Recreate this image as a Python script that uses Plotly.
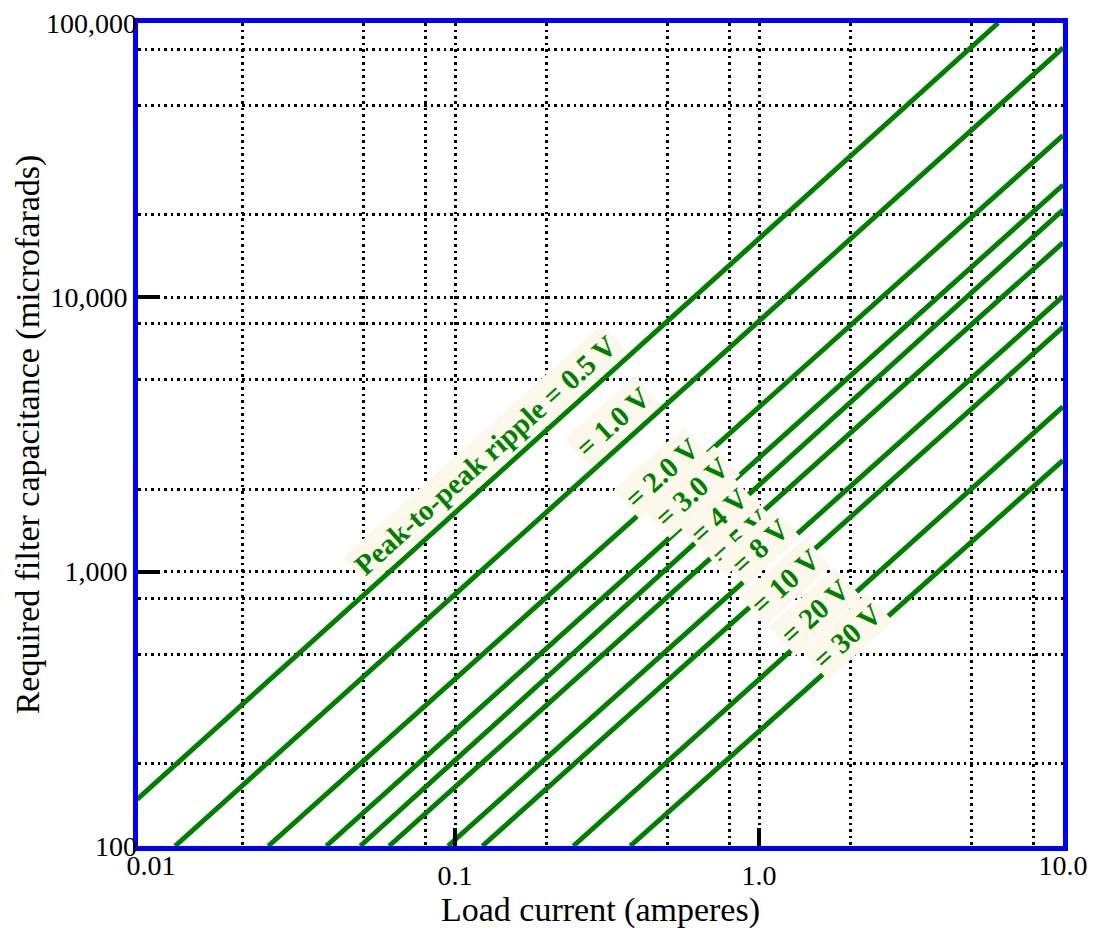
import plotly.graph_objects as go

# ---- data ----
ripple_volts = [0.5, 1.0, 2.0, 3.0, 4, 5, 8, 10, 20, 30]
label_texts = ["Peak-to-peak ripple = 0.5 V", "= 1.0 V", "= 2.0 V", "= 3.0 V", "= 4 V",
               "= 5 V", "= 8 V", "= 10 V", "= 20 V", "= 30 V"]
# start point of each line (amperes, microfarads)
start_current = [0.0090, 0.0120, 0.0243, 0.0377, 0.0488, 0.0607, 0.0948, 0.123, 0.245, 0.377]
start_cap = [148, 100, 100, 100, 100, 100, 100, 100, 100, 100]
# end point of each line
end_current = [6.12, 10, 10, 10, 10, 10, 10, 10, 10, 10]
end_cap = [100000, 81200, 38960, 25670, 20830, 15820, 10080, 7785, 3995, 2546]

# label centres (fraction of plot area)
label_px = [0.376, 0.5135, 0.5665, 0.599, 0.628, 0.651, 0.672, 0.6995, 0.732, 0.7675]
label_py = [0.475, 0.515, 0.453, 0.430, 0.401, 0.3755, 0.3635, 0.321, 0.284, 0.255]

# axis ticks
x_major = [0.1, 1]
x_major_text = ["0.1", "1.0"]
x_end = [0.01, 10]
x_end_text = ["0.01", "10.0"]
y_major = [1000, 10000]
y_major_text = ["1,000", "10,000"]
y_end = [100, 100000]
y_end_text = ["100", "100,000"]
x_grid_minor = [0.02, 0.05, 0.08, 0.2, 0.5, 0.8, 2, 5, 8]
y_grid_minor = [200, 500, 800, 2000, 5000, 8000, 20000, 50000, 80000]

X_RANGE = [-2.043, 1.0]
Y_RANGE = [2.0, 5.0]

GREEN = "#008000"
SERIF = "Liberation Serif, Times New Roman, serif"
DOT = "2.5px,4px"

fig = go.Figure()
for v, x0, y0, x1, y1 in zip(ripple_volts, start_current, start_cap, end_current, end_cap):
    fig.add_trace(go.Scatter(x=[x0, x1], y=[y0, y1], mode="lines",
                             line=dict(color=GREEN, width=5), name=f"{v} V",
                             showlegend=False, hoverinfo="skip"))
# empty trace so that the overlay axes (end labels) are drawn
fig.add_trace(go.Scatter(x=[], y=[], xaxis="x2", yaxis="y2", showlegend=False,
                         hoverinfo="skip"))

for txt, px, py in zip(label_texts, label_px, label_py):
    fig.add_annotation(x=px, y=py, xref="paper", yref="paper", text=f"<b>{txt}</b>",
                       xanchor="center", yanchor="middle",
                       showarrow=False, textangle=-42, bgcolor="#FDF8EC", borderpad=3,
                       font=dict(family=SERIF, size=29, color=GREEN))

grid_style = dict(showgrid=True, gridcolor="black", griddash=DOT, gridwidth=2.5)
tick_font = dict(family=SERIF, size=28, color="black")

fig.update_layout(
    width=1102, height=931,
    margin=dict(l=138, r=39, t=23, b=85, autoexpand=False),
    paper_bgcolor="white", plot_bgcolor="white",
    font=dict(family=SERIF, size=28, color="black"),
    xaxis=dict(type="log", range=X_RANGE, tickmode="array", tickvals=x_major, dtick=1,
               ticktext=x_major_text, ticks="inside", ticklen=18, tickwidth=4,
               tickcolor="black", showline=True, linecolor="blue", linewidth=5,
               mirror=True, zeroline=False, tickfont=tick_font, automargin=False,
               minor=dict(tickmode="array", tickvals=x_grid_minor, ticks="", **grid_style),
               title=dict(text="Load current (amperes)", font=dict(size=34), standoff=2),
               **grid_style),
    yaxis=dict(type="log", range=Y_RANGE, tickmode="array", tickvals=y_major, dtick=1,
               ticktext=y_major_text, ticks="inside", ticklen=22, tickwidth=4,
               tickcolor="black", showline=True, linecolor="blue", linewidth=5,
               mirror=True, zeroline=False, tickfont=tick_font, automargin=False,
               minor=dict(tickmode="array", tickvals=y_grid_minor, ticks="", **grid_style),
               title=dict(text="Required filter capacitance (microfarads)", font=dict(size=34),
                          standoff=2),
               **grid_style),
    xaxis2=dict(type="log", range=X_RANGE, overlaying="x", anchor="y", side="bottom",
                tickmode="array", tickvals=x_end, ticktext=x_end_text, ticks="", dtick=1,
                showgrid=False, showline=False, zeroline=False, tickfont=tick_font,
                automargin=False, ticklabeloverflow="allow"),
    yaxis2=dict(type="log", range=Y_RANGE, overlaying="y", anchor="x", side="left",
                tickmode="array", tickvals=y_end, ticktext=y_end_text, ticks="", dtick=1,
                showgrid=False, showline=False, zeroline=False, tickfont=tick_font,
                automargin=False, ticklabeloverflow="allow"),
)

# remove the default 8px page margin so the figure fills the window exactly
fig.write_html("out.html",
               config={"displayModeBar": False},
               post_script="document.body.style.margin='0';"
                           "document.body.style.overflow='hidden';")
